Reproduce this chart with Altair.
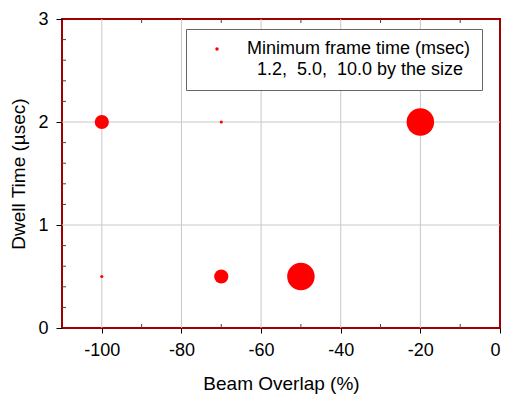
import altair as alt
import pandas as pd

# data
overlap = [-100, -70, -20, -100, -70, -50]
dwell = [2.0, 2.0, 2.0, 0.5, 0.5, 0.5]
frame_time = [5.0, 1.2, 10.0, 1.2, 5.0, 10.0]

x_ticks = [-100, -80, -60, -40, -20, 0]
y_ticks = [0, 1, 2, 3]
x_grid = [-100, -80, -60, -40, -20]
y_grid = [1, 2]
x_minor = [-90, -70, -50, -30, -10]
y_minor = [0.2, 0.4, 0.6, 0.8, 1.2, 1.4, 1.6, 1.8, 2.2, 2.4, 2.6, 2.8]

legend_labels = ["Minimum frame time (msec)",
                 "\u200b\u00a0\u00a01.2,\u00a0\u00a05.0,\u00a0\u00a010.0 by the size"]

W, H = 438, 309
FONT = "Liberation Sans"
RED = "#a00000"

df = pd.DataFrame({"overlap": overlap, "dwell": dwell, "frame": frame_time,
                   "series": [legend_labels[0]] * len(overlap)})

xs = alt.Scale(domain=[-110, 0], nice=False, zero=False)
ys = alt.Scale(domain=[0, 3], nice=False, zero=False)

x_axis = alt.Axis(values=x_ticks, title="Beam Overlap (%)", grid=False, domain=False,
                  labelExpr="'' + datum.value",
                  tickSize=5, tickColor="black", labelFontSize=18, labelPadding=8,
                  labelColor="black", titleFontSize=19, titleFontWeight="normal",
                  titleColor="black", titlePadding=15, labelFont=FONT, titleFont=FONT)
y_axis = alt.Axis(values=y_ticks, title="Dwell Time (\u00b5sec)", grid=False, domain=False,
                  labelExpr="'' + datum.value",
                  tickSize=6, tickColor="black", labelFontSize=18, labelPadding=8,
                  labelColor="black", titleFontSize=19, titleFontWeight="normal",
                  titleColor="black", titlePadding=9, labelFont=FONT, titleFont=FONT)

gx = alt.Chart(pd.DataFrame({"v": x_grid})).mark_rule(color="#c8c8c8", strokeWidth=1).encode(
    x=alt.X("v:Q", scale=xs, axis=x_axis), y=alt.value(0), y2=alt.value(H))
gy = alt.Chart(pd.DataFrame({"v": y_grid})).mark_rule(color="#c8c8c8", strokeWidth=1).encode(
    y=alt.Y("v:Q", scale=ys, axis=y_axis), x=alt.value(0), x2=alt.value(W))

mx_b = alt.Chart(pd.DataFrame({"v": x_minor})).mark_rule(color="#444444").encode(
    x=alt.X("v:Q", scale=xs), y=alt.value(H), y2=alt.value(H - 4))
mx_t = alt.Chart(pd.DataFrame({"v": x_minor})).mark_rule(color="#444444").encode(
    x=alt.X("v:Q", scale=xs), y=alt.value(0), y2=alt.value(4))
my_l = alt.Chart(pd.DataFrame({"v": y_minor})).mark_rule(color="#444444").encode(
    y=alt.Y("v:Q", scale=ys), x=alt.value(0), x2=alt.value(4))

pts = alt.Chart(df).mark_circle(opacity=1).encode(
    x=alt.X("overlap:Q", scale=xs),
    y=alt.Y("dwell:Q", scale=ys),
    size=alt.Size("frame:Q", scale=alt.Scale(type="linear", domain=[1.2, 5.0, 10.0],
                                             range=[10, 201, 755]), legend=None),
    color=alt.Color("series:N",
                    scale=alt.Scale(domain=legend_labels, range=["#ff0000", "rgba(0,0,0,0)"]),
                    legend=alt.Legend(title=None, orient="none", legendX=124, legendY=10,
                                      padding=11, symbolType="circle", symbolSize=12,
                                      symbolOffset=11, labelOffset=21, labelLimit=0,
                                      labelFontSize=18, labelFont=FONT, labelColor="black",
                                      rowPadding=3, strokeColor="#666666", fillColor="white")),
)

chart = alt.layer(gx, gy, mx_b, mx_t, my_l, pts).properties(
    width=W, height=H,
    background="white",
    autosize=alt.AutoSizeParams(type="none"),
    padding={"left": 54, "top": 11, "right": 2, "bottom": 70},
).configure_view(stroke=RED, strokeWidth=2, fill="white")

chart.save("out.html", embed_options={"renderer": "svg", "actions": False})
